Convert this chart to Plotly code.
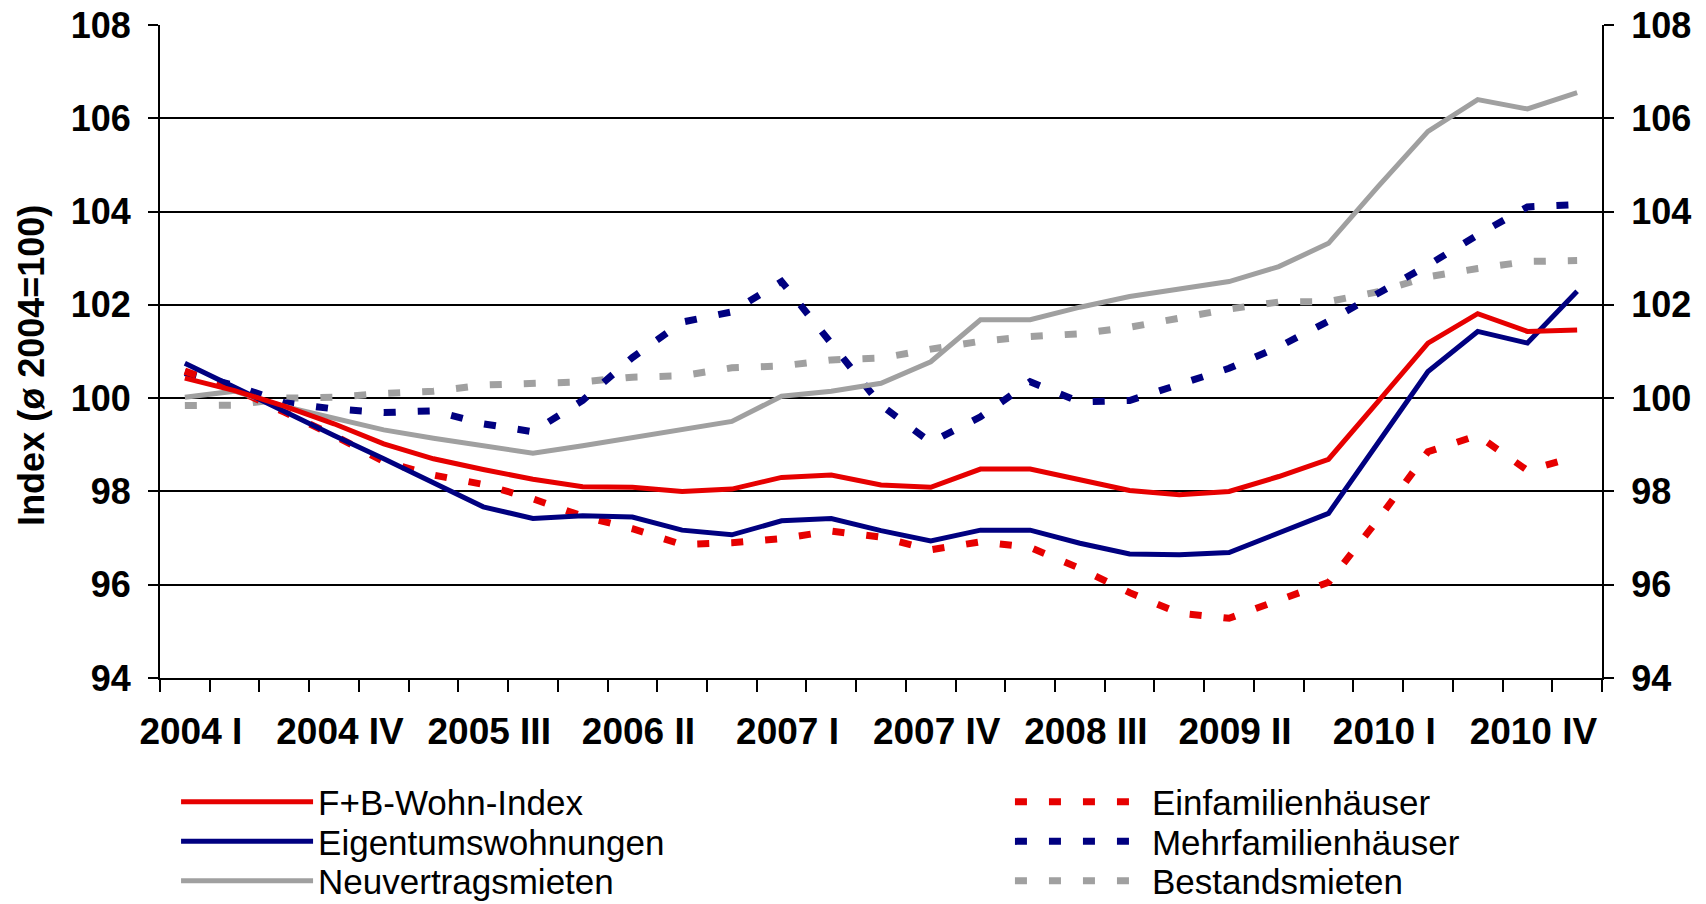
import plotly.graph_objects as go

# ---------------- data ----------------
quarters = [
    "2004 I", "2004 II", "2004 III", "2004 IV",
    "2005 I", "2005 II", "2005 III", "2005 IV",
    "2006 I", "2006 II", "2006 III", "2006 IV",
    "2007 I", "2007 II", "2007 III", "2007 IV",
    "2008 I", "2008 II", "2008 III", "2008 IV",
    "2009 I", "2009 II", "2009 III", "2009 IV",
    "2010 I", "2010 II", "2010 III", "2010 IV",
    "2011 I",
]

fb_wohn_index = [100.43, 100.16, 99.83, 99.45, 99.02, 98.70, 98.47, 98.26, 98.10, 98.09,
                 98.00, 98.05, 98.30, 98.35, 98.14, 98.09, 98.48, 98.48, 98.25, 98.02,
                 97.93, 98.00, 98.32, 98.69, 99.93, 101.18, 101.81, 101.43, 101.46]

eigentumswohnungen = [100.75, 100.23, 99.71, 99.20, 98.70, 98.18, 97.67, 97.42, 97.48, 97.45,
                      97.17, 97.07, 97.37, 97.42, 97.16, 96.94, 97.17, 97.17, 96.89, 96.66,
                      96.64, 96.69, 97.11, 97.53, 99.05, 100.57, 101.43, 101.18, 102.29]

neuvertragsmieten = [100.02, 100.15, 99.82, 99.57, 99.32, 99.14, 98.98, 98.82, 98.98, 99.15,
                     99.33, 99.50, 100.04, 100.15, 100.32, 100.78, 101.68, 101.68, 101.95, 102.18,
                     102.34, 102.50, 102.82, 103.32, 104.54, 105.72, 106.40, 106.20, 106.55]

einfamilienhaeuser = [100.58, 100.20, 99.70, 99.20, 98.64, 98.35, 98.15, 97.84, 97.47, 97.20,
                      96.86, 96.90, 96.99, 97.15, 97.02, 96.75, 96.92, 96.80, 96.35, 95.83,
                      95.39, 95.28, 95.67, 96.05, 97.40, 98.85, 99.20, 98.45, 98.75]

mehrfamilienhaeuser = [100.55, 100.27, 99.90, 99.77, 99.69, 99.73, 99.45, 99.28, 99.95, 100.87,
                       101.63, 101.85, 102.50, 101.20, 99.85, 99.05, 99.60, 100.35, 99.92, 99.95,
                       100.28, 100.64, 101.10, 101.65, 102.25, 102.85, 103.50, 104.10, 104.15]

bestandsmieten = [99.84, 99.85, 100.00, 100.02, 100.10, 100.15, 100.28, 100.30, 100.35, 100.45,
                  100.48, 100.65, 100.69, 100.82, 100.86, 101.05, 101.22, 101.32, 101.38, 101.52,
                  101.71, 101.91, 102.06, 102.07, 102.28, 102.60, 102.78, 102.93, 102.95]

y_ticks = [94, 96, 98, 100, 102, 104, 106, 108]
y_title = "Index (ø 2004=100)"

# ---------------- styling ----------------
FONT = "Liberation Sans, Arial, sans-serif"
RED = "#E60000"
NAVY = "#000080"
GRAY = "#A0A0A0"
SOLID_W = 5
DOT_W = 7
DOT = "12px,22px"
Y_RANGE = [94, 108]

x_pos = list(range(len(quarters)))
label_pos = x_pos[::3]
label_txt = [quarters[i] for i in label_pos]

# (name, values, color, dash, width, legend id, y axis)
series = [
    ("Bestandsmieten", bestandsmieten, GRAY, DOT, DOT_W, "legend6", "y"),
    ("Mehrfamilienhäuser", mehrfamilienhaeuser, NAVY, DOT, DOT_W, "legend5", "y"),
    ("Einfamilienhäuser", einfamilienhaeuser, RED, DOT, DOT_W, "legend4", "y"),
    ("Neuvertragsmieten", neuvertragsmieten, GRAY, "solid", SOLID_W, "legend3", "y"),
    ("Eigentumswohnungen", eigentumswohnungen, NAVY, "solid", SOLID_W, "legend2", "y"),
    ("F+B-Wohn-Index", fb_wohn_index, RED, "solid", SOLID_W, "legend", "y2"),
]

fig = go.Figure()
for name, vals, col, dash, w, leg, yax in series:
    fig.add_trace(go.Scatter(
        x=x_pos, y=vals, name=name, mode="lines",
        line=dict(color=col, width=w, dash=dash),
        legend=leg, showlegend=True, yaxis=yax,
        hovertemplate="%{text}: %{y:.2f}<extra>" + name + "</extra>",
        text=quarters,
    ))

legend_font = dict(family=FONT, size=35, color="black")
row_y = [0.1128, 0.0690, 0.0254]
col_x = [0.1032, 0.5920]
legend_pos = {
    "legend": (col_x[0], row_y[0]),
    "legend2": (col_x[0], row_y[1]),
    "legend3": (col_x[0], row_y[2]),
    "legend4": (col_x[1], row_y[0]),
    "legend5": (col_x[1], row_y[1]),
    "legend6": (col_x[1], row_y[2]),
}
legend_layout = {}
for key, (lx, ly) in legend_pos.items():
    legend_layout[key] = dict(
        x=lx, y=ly, xref="container", yref="container",
        xanchor="left", yanchor="middle",
        bgcolor="rgba(0,0,0,0)", borderwidth=0,
        font=legend_font, itemwidth=132, tracegroupgap=0,
        itemclick=False, itemdoubleclick=False,
    )

x_tick_font = dict(family=FONT, size=37, color="black", weight="bold")
y_tick_font = dict(family=FONT, size=36, color="black", weight="bold")

y_common = dict(
    range=Y_RANGE, tickmode="array", tickvals=y_ticks,
    ticks="outside", ticklen=10, tickwidth=2, tickcolor="black",
    ticklabelstandoff=10, tickfont=y_tick_font,
    zeroline=False, showline=True, linecolor="black", linewidth=2,
    fixedrange=True,
)

fig.update_layout(
    width=1706, height=904,
    margin=dict(l=160, r=104, t=25, b=226, autoexpand=False),
    paper_bgcolor="white", plot_bgcolor="white",
    font=dict(family=FONT, color="black"),
    xaxis=dict(
        range=[-0.5, len(quarters) - 0.5],
        tickmode="array", tickvals=label_pos, ticktext=label_txt,
        ticks="", ticklabelstandoff=20, ticklabelshift=6,
        tickfont=x_tick_font,
        showgrid=False, zeroline=False,
        showline=True, linecolor="black", linewidth=2,
        minor=dict(ticks="outside", tick0=-0.5, dtick=1, ticklen=12,
                   tickwidth=2, tickcolor="black", showgrid=False),
        fixedrange=True,
    ),
    yaxis=dict(showgrid=True, gridcolor="black", gridwidth=1.5, side="left", **y_common),
    yaxis2=dict(showgrid=False, overlaying="y", side="right", anchor="x", **y_common),
    annotations=[dict(
        text=y_title, textangle=-90,
        xref="paper", yref="paper", x=-0.089, y=0.479,
        xanchor="center", yanchor="middle", showarrow=False,
        font=dict(family=FONT, size=36, color="black", weight="bold"),
    )],
    **legend_layout,
)

fig.write_html(
    "out.html",
    config={"displayModeBar": False},
    post_script="document.body.style.margin='0px';document.body.style.overflow='hidden';",
)
